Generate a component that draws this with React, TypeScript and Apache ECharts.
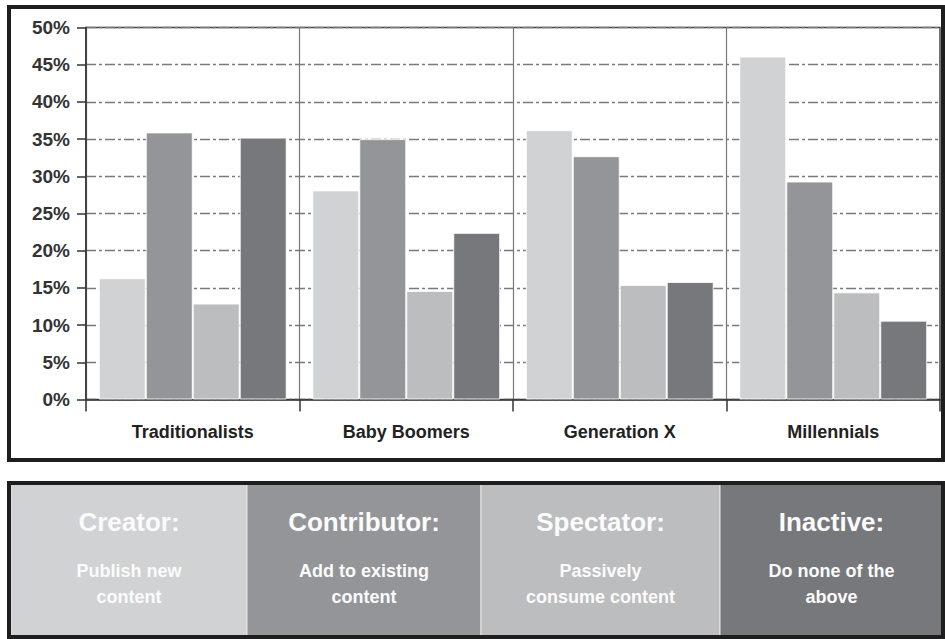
import React, { useEffect, useRef } from "react";
import * as echarts from "echarts";

const categories = ["Traditionalists", "Baby Boomers", "Generation X", "Millennials"];
const seriesNames = ["Creator", "Contributor", "Spectator", "Inactive"];
const creatorValues = [16.3, 28.1, 36.2, 46.1];
const contributorValues = [35.9, 35.0, 32.7, 29.3];
const spectatorValues = [12.9, 14.6, 15.4, 14.4];
const inactiveValues = [35.2, 22.4, 15.8, 10.6];
const legendTitles = ["Creator:", "Contributor:", "Spectator:", "Inactive:"];
const legendDescriptions = [
  "Publish new\ncontent",
  "Add to existing\ncontent",
  "Passively\nconsume content",
  "Do none of the\nabove",
];
const yTicks = { min: 0, max: 50, interval: 5 };

const colors = ["#d1d2d4", "#939598", "#bcbdbf", "#77787b"];
const FONT = "'Liberation Sans', Arial, Helvetica, sans-serif";

export default function App() {
  const ref = useRef<HTMLDivElement>(null);
  useEffect(() => {
    document.body.style.margin = "0";
    if (!ref.current) return;
    const chart = echarts.init(ref.current, null, { renderer: "svg" });
    const values = [creatorValues, contributorValues, spectatorValues, inactiveValues];

    const cellX = [11, 247, 481, 720];
    const cellW = [236, 234, 239, 223];
    const legendGraphics: any[] = [];
    legendTitles.forEach((t, i) => {
      const cx = cellX[i] + cellW[i] / 2;
      legendGraphics.push({
        type: "rect",
        shape: { x: cellX[i], y: 484, width: cellW[i], height: 152 },
        style: { fill: colors[i], stroke: "#e6e6e6", lineWidth: 1 },
        z: 1,
      });
      legendGraphics.push({
        type: "text",
        x: cx,
        y: 522,
        style: {
          text: t,
          fill: "#fbfbfb",
          font: `bold 26px ${FONT}`,
          textAlign: "center",
          textVerticalAlign: "middle",
        },
        z: 3,
      });
      legendGraphics.push({
        type: "text",
        x: cx,
        y: 584,
        style: {
          text: legendDescriptions[i],
          fill: "#fbfbfb",
          font: `bold 18px ${FONT}`,
          lineHeight: 26,
          textAlign: "center",
          textVerticalAlign: "middle",
        },
        z: 3,
      });
    });

    chart.setOption({
      animation: false,
      backgroundColor: "#ffffff",
      grid: {
        left: 86,
        top: 27.5,
        width: 854,
        height: 372,
        show: true,
        borderColor: "#444",
        borderWidth: 1.5,
        backgroundColor: "transparent",
      },
      xAxis: {
        type: "category",
        data: categories,
        axisLine: { show: true, lineStyle: { color: "#333", width: 1.5 } },
        axisTick: { show: true, length: 12, lineStyle: { color: "#333", width: 1.5 } },
        axisLabel: {
          color: "#222",
          fontWeight: "bold",
          fontSize: 18,
          fontFamily: FONT,
          margin: 23,
        },
        splitLine: { show: true, lineStyle: { color: "#777", width: 1.2 } },
      },
      yAxis: {
        type: "value",
        min: yTicks.min,
        max: yTicks.max,
        interval: yTicks.interval,
        axisLine: { show: true, lineStyle: { color: "#333", width: 1.5 } },
        axisTick: { show: true, length: 9, lineStyle: { color: "#333", width: 1.5 } },
        axisLabel: {
          formatter: "{value}%",
          color: "#333",
          fontWeight: "bold",
          fontSize: 19,
          fontFamily: FONT,
          margin: 16,
        },
        splitLine: {
          show: true,
          lineStyle: { color: "#7a7a7a", width: 1.4, type: [10, 3, 3, 3] },
        },
      },
      series: seriesNames.map((name, i) => ({
        name,
        type: "bar",
        data: values[i],
        barGap: "0%",
        barCategoryGap: "12%",
        itemStyle: { color: colors[i], borderColor: "rgba(255,255,255,0.85)", borderWidth: 1 },
        z: 5,
      })),
      graphic: [
        {
          type: "rect",
          shape: { x: 9, y: 7, width: 934, height: 453 },
          style: { fill: "none", stroke: "#1e1e1e", lineWidth: 4 },
          z: 10,
        },
        ...legendGraphics,
        {
          type: "rect",
          shape: { x: 9, y: 483, width: 934, height: 154 },
          style: { fill: "none", stroke: "#1e1e1e", lineWidth: 4 },
          z: 10,
        },
      ],
    });
    return () => chart.dispose();
  }, []);
  return <div ref={ref} style={{ width: 945, height: 639 }} />;
}
